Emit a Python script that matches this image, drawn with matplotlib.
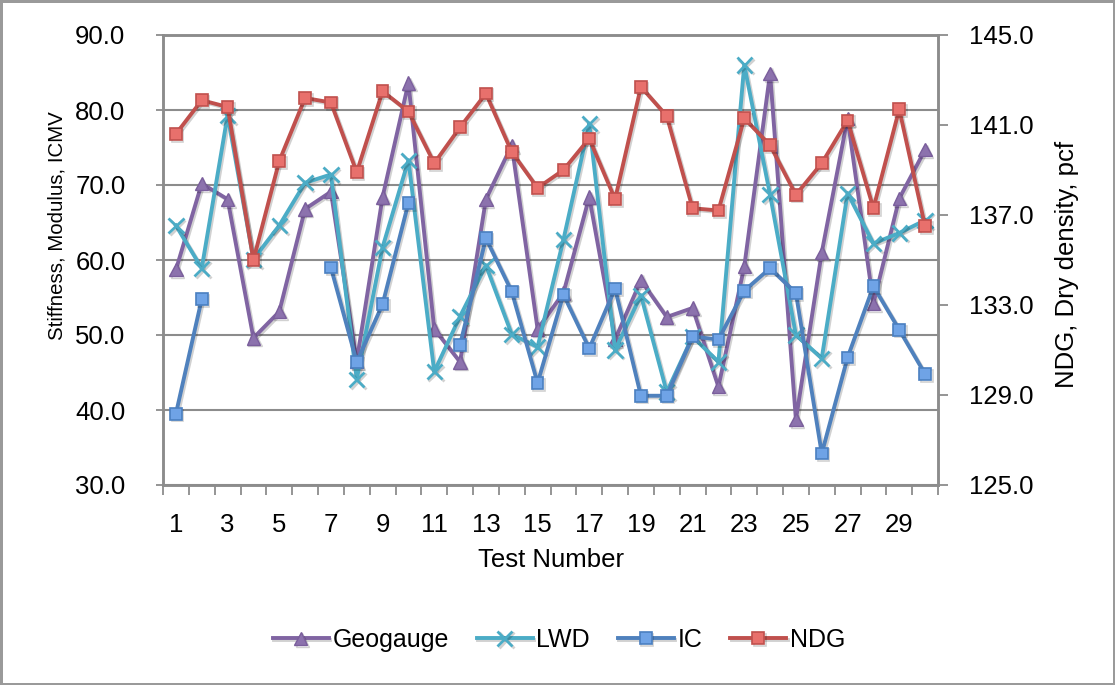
import numpy as np
import matplotlib
matplotlib.use("Agg")
import matplotlib.pyplot as plt
import matplotlib.patheffects as pe
from matplotlib import font_manager

plt.rcParams['font.family'] = ['Liberation Sans', 'DejaVu Sans']

nan = np.nan
tests = list(range(1, 31))
geogauge = [58.7, 70.2, 68.1, 49.6, 53.1, 66.8, 69.1, 46.5, 68.4, 83.6,
            50.8, 46.4, 68.1, 75.3, 50.8, 55.6, 68.4, 49.4, 57.3, 52.4,
            53.6, 43.1, 59.1, 84.9, 38.7, 61.0, 78.9, 54.2, 68.2, 74.7]
lwd = [64.6, 58.9, 79.3, 60.1, 64.6, 70.3, 71.4, 44.1, 61.7, 73.3,
       45.1, 52.5, 59.3, 50.1, 48.4, 62.7, 78.2, 48.0, 55.3, 42.4,
       49.8, 46.4, 86.0, 68.7, 50.0, 46.9, 68.9, 62.2, 63.6, 65.3]
ic = [39.5, 54.8, nan, nan, nan, nan, 59.0, 46.4, 54.1, 67.6,
      nan, 48.7, 62.9, 55.8, 43.6, 55.4, 48.2, 56.2, 41.9, 41.9,
      49.8, 49.4, 55.9, 58.9, 55.6, 34.2, 47.0, 56.5, 50.7, 44.8]
ndg = [140.6, 142.1, 141.8, 135.0, 139.4, 142.2, 142.0, 138.9, 142.5, 141.6,
       139.3, 140.9, 142.4, 139.8, 138.2, 139.0, 140.4, 137.7, 142.7, 141.4,
       137.3, 137.2, 141.3, 140.1, 137.9, 139.3, 141.2, 137.3, 141.7, 136.5]

left_ticks = [30, 40, 50, 60, 70, 80, 90]
right_ticks = [125, 129, 133, 137, 141, 145]
x_labels = [str(t) for t in tests[::2]]

GRID = '#8c8c8c'
shadow = [pe.SimpleLineShadow(offset=(1.2, -1.2), alpha=0.18, shadow_color='black'), pe.Normal()]

# condensed face for the left axis title when available
installed = {f.name for f in font_manager.fontManager.ttflist}
if 'Liberation Sans Narrow' in installed:
    left_title_family, left_title_size = 'Liberation Sans Narrow', 17.5
else:
    left_title_family, left_title_size = 'Liberation Sans', 14.8

fig = plt.figure(figsize=(11.15, 6.85), dpi=100)
fig.patch.set_facecolor('white')
fig.patch.set_edgecolor('#9a9a9a')
fig.patch.set_linewidth(2.5)

ax = fig.add_axes([163 / 1115, 1 - 485 / 685, 775 / 1115, 450 / 685])
ax2 = ax.twinx()

lw = 2.8
l1, = ax.plot(tests, geogauge, color='#8064A2', lw=lw, marker='^', ms=9.5,
              mfc='#8c72ad', mec='#7a5e9c', mew=1, path_effects=shadow, label='Geogauge')
l2, = ax.plot(tests, lwd, color='#4BACC6', lw=lw, marker='x', ms=11, mew=2,
              mec='#4BACC6', path_effects=shadow, label='LWD')
l3, = ax.plot(tests, ic, color='#4F81BD', lw=lw, marker='s', ms=8.5,
              mfc='#6fa3e6', mec='#4a7fc0', mew=1.2, path_effects=shadow, label='IC')
l4, = ax2.plot(tests, ndg, color='#C0504D', lw=lw, marker='s', ms=8.5,
               mfc='#e8706c', mec='#c0504d', mew=1.2, path_effects=shadow, label='NDG')

ax.set_xlim(0.5, 30.5)
ax.set_ylim(30, 90)
ax2.set_ylim(125, 145)

ax.set_yticks(left_ticks)
ax.set_yticklabels([f'{v:.1f}' for v in left_ticks])
ax2.set_yticks(right_ticks)
ax2.set_yticklabels([f'{v:.1f}' for v in right_ticks])

ax.set_xticks(tests[::2])
ax.set_xticklabels(x_labels)
ax.set_xticks(np.arange(0.5, 31, 1), minor=True)
ax.tick_params(axis='x', which='major', length=0, pad=20, labelsize=18.5)
ax.tick_params(axis='x', which='minor', length=7, width=1.3, color=GRID, direction='out')
ax.tick_params(axis='y', length=5, width=1.3, color=GRID, pad=22, labelsize=18.5)
ax2.tick_params(axis='y', length=7, width=1.3, color=GRID, pad=15, labelsize=18.5)

ax.yaxis.grid(True, color=GRID, lw=1.5)
ax.set_axisbelow(True)

for a in (ax, ax2):
    for s in a.spines.values():
        s.set_color(GRID)
        s.set_linewidth(1.8)

ax.set_xlabel('Test Number', fontsize=18.5)
ax.xaxis.set_label_coords(0.5, -0.167)
ax.xaxis.label.set_va('center')

ax.set_ylabel('Stiffness, Modulus, ICMV', fontsize=left_title_size, family=left_title_family)
ax.yaxis.set_label_coords(-0.137, 0.576)
ax.yaxis.label.set_va('center')

ax2.set_ylabel('NDG, Dry density, pcf', fontsize=18.5)
ax2.yaxis.set_label_coords((1067 - 163) / 775, 0.49)
ax2.yaxis.label.set_va('center')

fig.legend(handles=[l1, l2, l3, l4], loc='center', bbox_to_anchor=(559 / 1115, 1 - 640 / 685),
           ncol=4, frameon=False, fontsize=18, handlelength=2.24,
           columnspacing=1.1, handletextpad=0.16)

fig.savefig('out.png', dpi=100, facecolor=fig.get_facecolor(), edgecolor=fig.get_edgecolor())
